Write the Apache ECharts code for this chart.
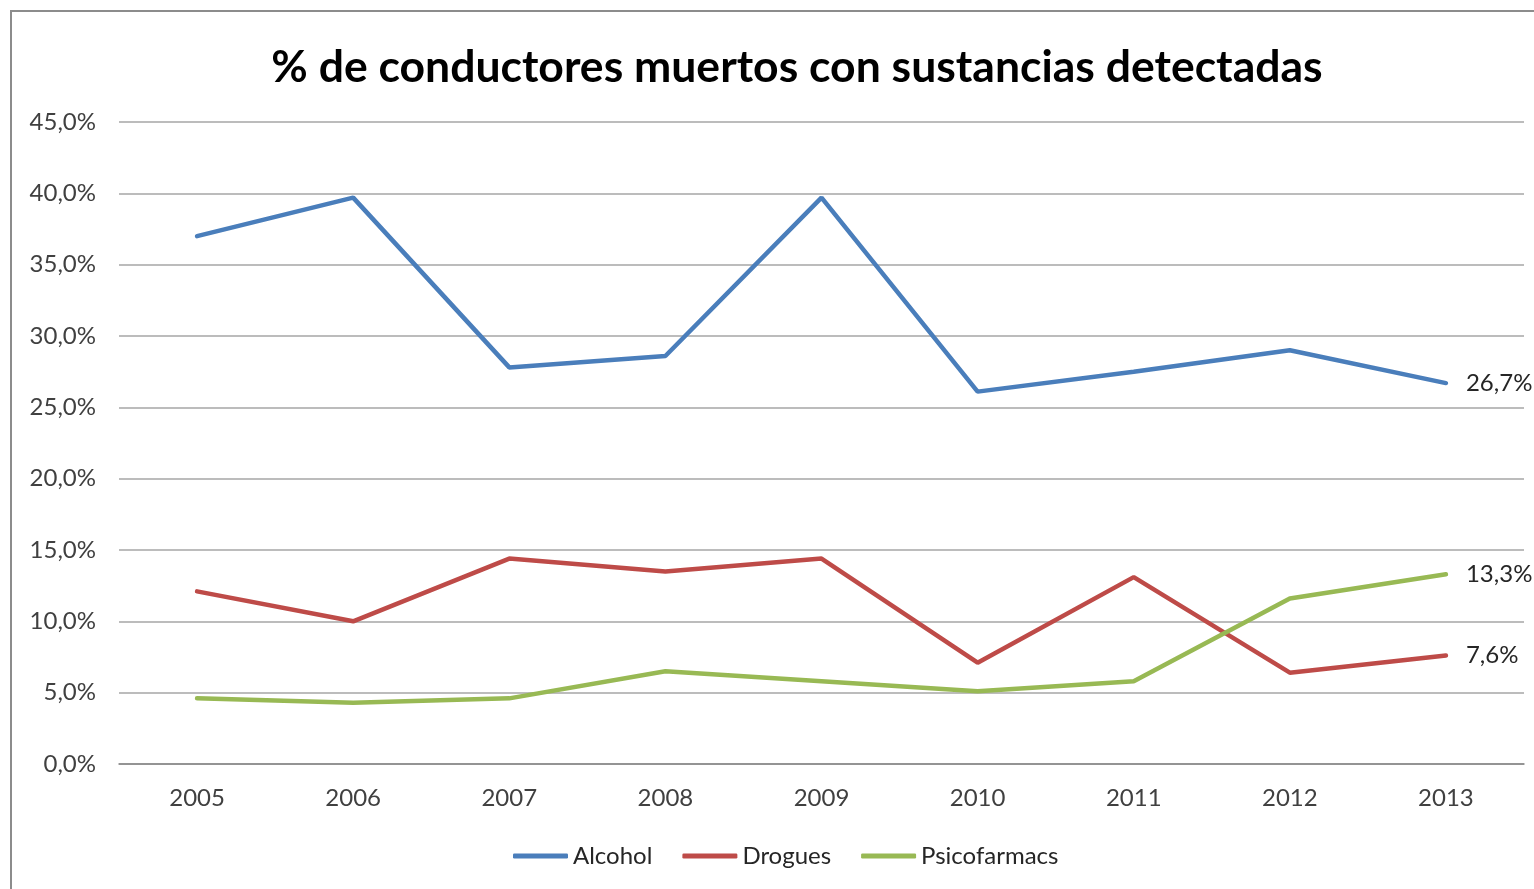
<!DOCTYPE html>
<html><head><meta charset="utf-8">
<style>html,body{margin:0;padding:0;background:#fff;}#c{width:1534px;height:889px;}
#frame{position:absolute;left:10px;top:10px;width:1600px;height:1000px;border:2px solid #8c8c8c;box-sizing:border-box;pointer-events:none;}</style>
<script src="https://cdn.jsdelivr.net/npm/echarts@6/dist/echarts.min.js"></script>
</head><body>
<div id="c"></div><div id="frame"></div>
<script>
const years = ['2005','2006','2007','2008','2009','2010','2011','2012','2013'];
const alcohol = [37.0, 39.7, 27.8, 28.6, 39.7, 26.1, 27.5, 29.0, 26.7];
const drogues = [12.1, 10.0, 14.4, 13.5, 14.4, 7.1, 13.1, 6.4, 7.6];
const psico = [4.6, 4.3, 4.6, 6.5, 5.8, 5.1, 5.8, 11.6, 13.3];
const yTicks = [0,5,10,15,20,25,30,35,40,45];

const fmt = v => v.toFixed(1).replace('.', ',') + '%';
const font = 'Lato, "Open Sans", sans-serif';
function mk(name, data, color){
  return {
    name, type:'line', data, symbol:'none', lineStyle:{width:4.5, color, cap:'round'}, itemStyle:{color},
    label:{show:false},
    endLabel:{show:true, formatter: p => fmt(p.value), color:'#262626', fontSize:24, fontFamily:font, distance:20},
    animation:false
  };
}
const chart = echarts.init(document.getElementById('c'));
chart.setOption({
  animation:false,
  title:{text:'% de conductores muertos con sustancias detectadas', left:792, top:40, textAlign:'center',
    textStyle:{fontSize:44.5, fontWeight:'bold', color:'#000', fontFamily:font}},
  grid:{left:119, right:10, top:122, bottom:125},
  legend:{bottom:16, left:508, itemWidth:55, itemHeight:5, itemGap:30,
    icon:'roundRect',
    textStyle:{fontSize:24, color:'#262626', fontFamily:font},
    data:['Alcohol','Drogues','Psicofarmacs']},
  xAxis:{type:'category', data:years, boundaryGap:true,
    axisLine:{show:true, lineStyle:{color:'#868686', width:1.5}}, axisTick:{show:false},
    axisLabel:{fontSize:24, color:'#404040', fontFamily:font, margin:22}},
  yAxis:{type:'value', min:0, max:45, interval:5,
    axisLine:{show:false}, axisTick:{show:false},
    splitLine:{lineStyle:{color:'#a6a6a6', width:1.5}},
    axisLabel:{fontSize:24, color:'#404040', fontFamily:font, margin:23, formatter: v => yTicks.includes(v) ? fmt(v) : ''}},
  series:[mk('Alcohol', alcohol, '#4A7EBB'), mk('Drogues', drogues, '#BE4B48'), mk('Psicofarmacs', psico, '#98B954')]
});
</script></body></html>
